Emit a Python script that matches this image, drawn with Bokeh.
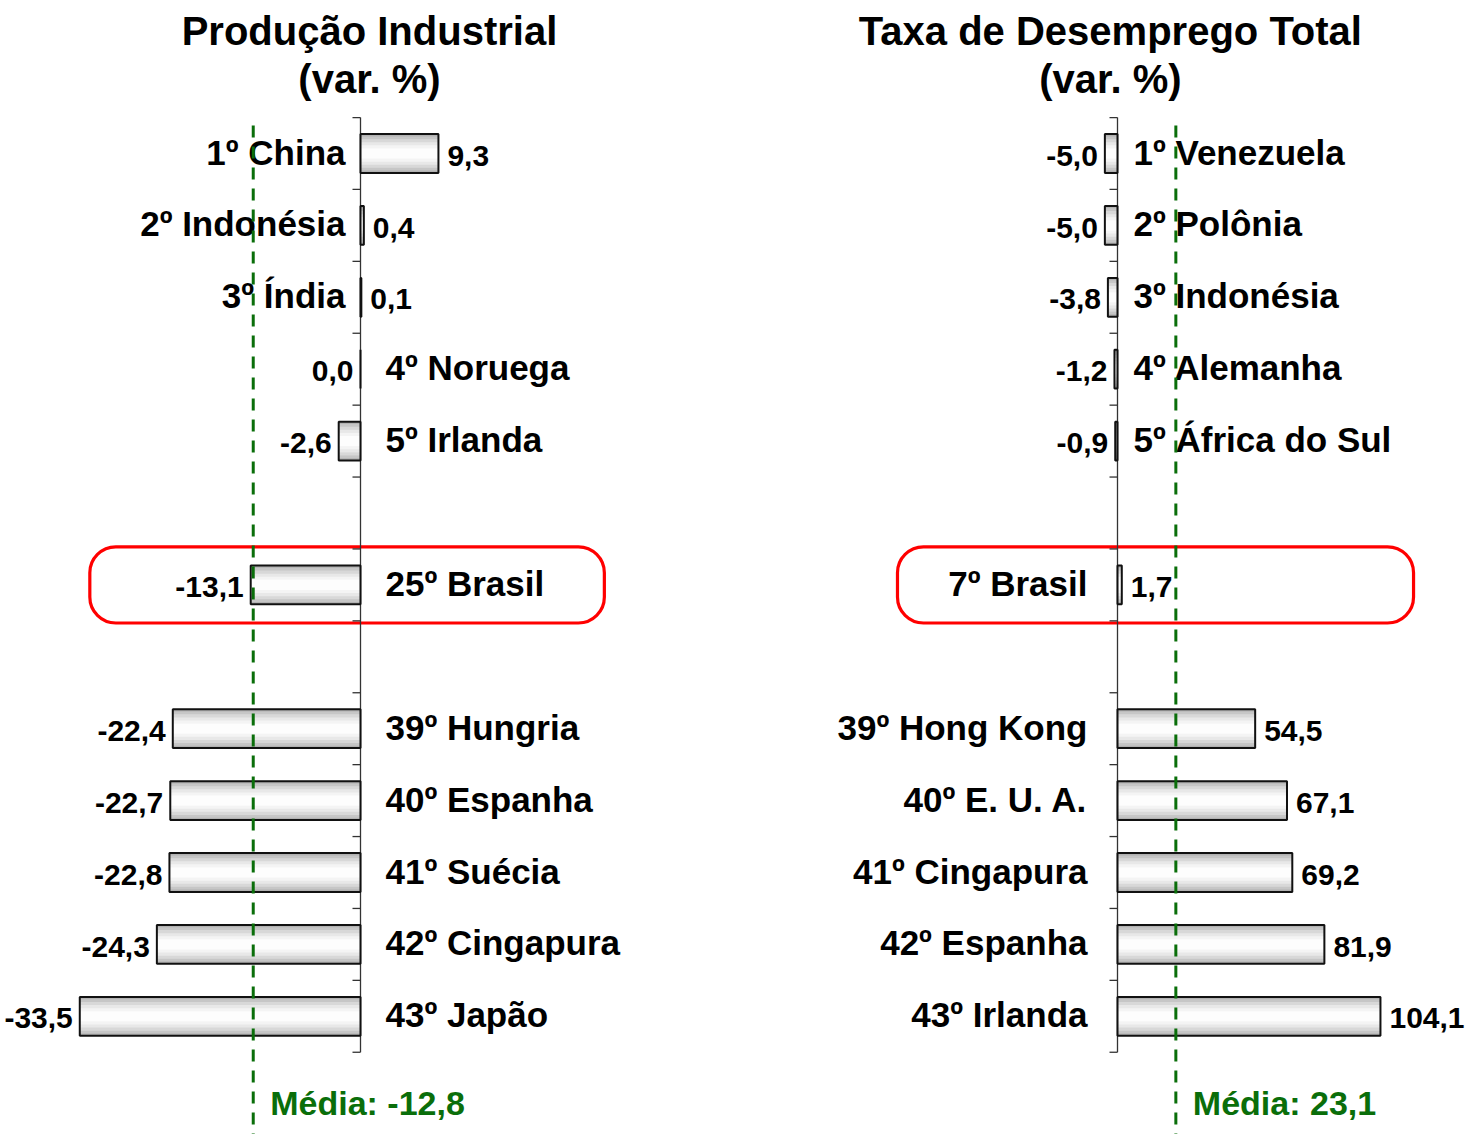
import math
from bokeh.plotting import figure
from bokeh.layouts import row
from bokeh.models import Range1d, ColumnDataSource
from bokeh.core.properties import value
from bokeh.embed import file_html
from bokeh.resources import INLINE

# ---------------- data ----------------
slots = [0, 1, 2, 3, 4, 6, 8, 9, 10, 11, 12]

prod_ranks = ["1º", "2º", "3º", "4º", "5º", "25º", "39º", "40º", "41º", "42º", "43º"]
prod_countries = ["China", "Indonésia", "Índia", "Noruega", "Irlanda", "Brasil",
                  "Hungria", "Espanha", "Suécia", "Cingapura", "Japão"]
prod_values = [9.3, 0.4, 0.1, 0.0, -2.6, -13.1, -22.4, -22.7, -22.8, -24.3, -33.5]
prod_mean = -12.8
prod_title = ["Produção Industrial", "(var. %)"]

desemp_ranks = ["1º", "2º", "3º", "4º", "5º", "7º", "39º", "40º", "41º", "42º", "43º"]
desemp_countries = ["Venezuela", "Polônia", "Indonésia", "Alemanha", "África do Sul", "Brasil",
                    "Hong Kong", "E. U. A.", "Cingapura", "Espanha", "Irlanda"]
desemp_values = [-5.0, -5.0, -3.8, -1.2, -0.9, 1.7, 54.5, 67.1, 69.2, 81.9, 104.1]
desemp_mean = 23.1
desemp_title = ["Taxa de Desemprego Total", "(var. %)"]

highlight = "Brasil"

FONT = value("Liberation Sans")
GREEN = "#0a6e0a"
H = 1134
PITCH = 71.9
SLOT0 = 153  # px from top of figure to centre of first slot
BAR_H = 0.54
BANDS = [(1.00, "#b2b2b2"), (0.88, "#c6c6c6"), (0.74, "#d8d8d8"),
         (0.58, "#e8e8e8"), (0.42, "#f4f4f4"), (0.26, "#fdfdfd")]


def fmt(v):
    return f"{v:.1f}".replace(".", ",")


def panel(width, axis_px, px_per_unit, ranks, countries, vals, mean, title,
          lab_off_left, lab_off_right, box_x, title_x):
    x_start = -axis_px / px_per_unit
    x_end = (width - axis_px) / px_per_unit
    y_bottom = (H - SLOT0) / PITCH
    y_top = -SLOT0 / PITCH
    p = figure(width=width, height=H, output_backend="svg", toolbar_location=None,
               x_range=Range1d(x_start, x_end), y_range=Range1d(y_bottom, y_top),
               x_axis_type=None, y_axis_type=None, min_border=0,
               outline_line_color=None, background_fill_color="white",
               border_fill_color="white")
    p.xgrid.visible = False
    p.ygrid.visible = False

    # titles
    p.text(x=[title_x, title_x], y=[-1.71, -1.04], text=title,
           text_font=FONT, text_font_style="bold", text_font_size="40px",
           text_align="center", text_baseline="middle", text_color="black")

    # highlight box (Brasil row)
    hi = slots[countries.index(highlight)]
    p.quad(left=[box_x[0]], right=[box_x[1]], top=[hi - 0.53], bottom=[hi + 0.53],
           fill_color=None, line_color="#ff0000", line_width=3.2, border_radius=26)

    # axis line and ticks
    p.segment(x0=[0], y0=[-0.5], x1=[0], y1=[12.5], line_color="#333333", line_width=1.3)
    bounds = [b - 0.5 for b in range(0, 14)]
    p.ray(x=[0] * len(bounds), y=bounds, length=8, length_units="screen",
          angle=math.pi, line_color="#333333", line_width=1.3)

    # gradient-like bars
    lefts = [min(0, v) for v in vals]
    rights = [max(0, v) for v in vals]
    for frac, col in BANDS:
        p.hbar(y=slots, left=lefts, right=rights, height=BAR_H * frac,
               fill_color=col, line_color=None)
    p.hbar(y=slots, left=lefts, right=rights, height=BAR_H,
           fill_color=None, line_color="#111111", line_width=2)

    # value labels
    pos = [v > 0 for v in vals]
    vs = ColumnDataSource(dict(
        x=vals, y=[s + 0.03 for s in slots], t=[fmt(v) for v in vals],
        off=[9 if q else -7 for q in pos],
        al=["left" if q else "right" for q in pos]))
    p.text(x="x", y="y", text="t", x_offset="off", text_align="al", source=vs,
           text_font=FONT, text_font_style="bold", text_font_size="30px",
           text_baseline="middle", text_color="black")

    # category labels: left of the axis for positive bars, right otherwise
    cs = ColumnDataSource(dict(
        x=[0] * len(vals), y=[s - 0.02 for s in slots],
        t=[f"{r} {c}" for r, c in zip(ranks, countries)],
        off=[lab_off_left if q else lab_off_right for q in pos],
        al=["right" if q else "left" for q in pos]))
    p.text(x="x", y="y", text="t", x_offset="off", text_align="al", source=cs,
           text_font=FONT, text_font_style="bold", text_font_size="35px",
           text_baseline="middle", text_color="black")

    # mean line and label
    p.segment(x0=[mean], y0=[-0.39], x1=[mean], y1=[y_bottom + 0.5],
              line_color=GREEN, line_width=3, line_dash="12 9")
    p.text(x=[mean], y=[13.21], text=[f"Média: {fmt(mean)}"], x_offset=17,
           text_font=FONT, text_font_style="bold", text_font_size="34px",
           text_align="left", text_baseline="middle", text_color=GREEN)
    return p


p1 = panel(733, 360, 8.38, prod_ranks, prod_countries, prod_values, prod_mean,
           prod_title, -15, 25, (-32.3, 29.1), 1.07)
p2 = panel(734, 384, 2.526, desemp_ranks, desemp_countries, desemp_values, desemp_mean,
           desemp_title, -30, 16, (-87.1, 117.2), -2.8)

layout = row(p1, p2)
open("out.html", "w").write(file_html(layout, INLINE))
